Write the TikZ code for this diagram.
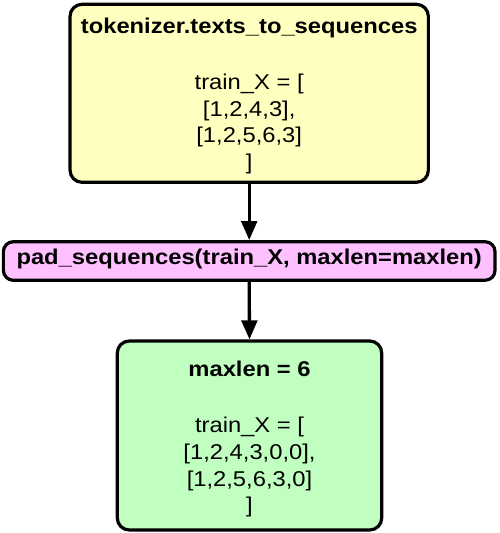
\documentclass[tikz,border=0pt]{standalone}
\usepackage{fontspec}
\setmainfont{Liberation Sans}[FakeStretch=1.11]
\usetikzlibrary{arrows.meta}

\definecolor{tokfill}{RGB}{255,255,192}
\definecolor{padfill}{RGB}{255,192,255}
\definecolor{outfill}{RGB}{192,255,192}

\tikzset{
  stage/.style={draw=black, line width=3.2pt, rounded corners=12pt, inner sep=0pt},
  boxtext/.style={align=center, font=\fontsize{21.4}{26.7}\selectfont, inner sep=0pt},
  flow/.style={line width=3.3pt, -{Triangle[length=19pt,width=15.6pt]}}
}

\begin{document}
\begin{tikzpicture}[x=1pt,y=1pt]
\useasboundingbox (0,0) rectangle (500,-533);

% tokenizer step
\node[stage, fill=tokfill, minimum width=358.3pt, minimum height=178pt] (tok) at (249.2,-93.3) {};
\node[boxtext] (toktext) at (249.2,-95.8)
  {\textbf{tokenizer.texts\_to\_sequences}\\[29.6pt]
   train\_X = [\\{[1,2,4,3],}\\{[1,2,5,6,3]}\\{]}};

% padding call
\node[stage, fill=padfill, rounded corners=10pt, minimum width=491.7pt, minimum height=38.6pt] (pad) at (249.2,-261) {};
\node[boxtext, anchor=base] (padtext) at (249.2,-264.3)
  {\textbf{pad\_sequences(train\_X, maxlen=maxlen)}};

% padded result
\node[stage, fill=outfill, minimum width=264.4pt, minimum height=189pt] (out) at (249.5,-435.5) {};
\node[boxtext] (outtext) at (249.5,-439.2)
  {\textbf{maxlen = 6}\\[29.6pt]
   train\_X = [\\{[1,2,4,3,0,0],}\\{[1,2,5,6,3,0]}\\{]}};

% connectors
\draw[flow] (tok.south) -- (pad.north);
\draw[flow] (pad.south) -- (out.north);
\end{tikzpicture}
\end{document}
